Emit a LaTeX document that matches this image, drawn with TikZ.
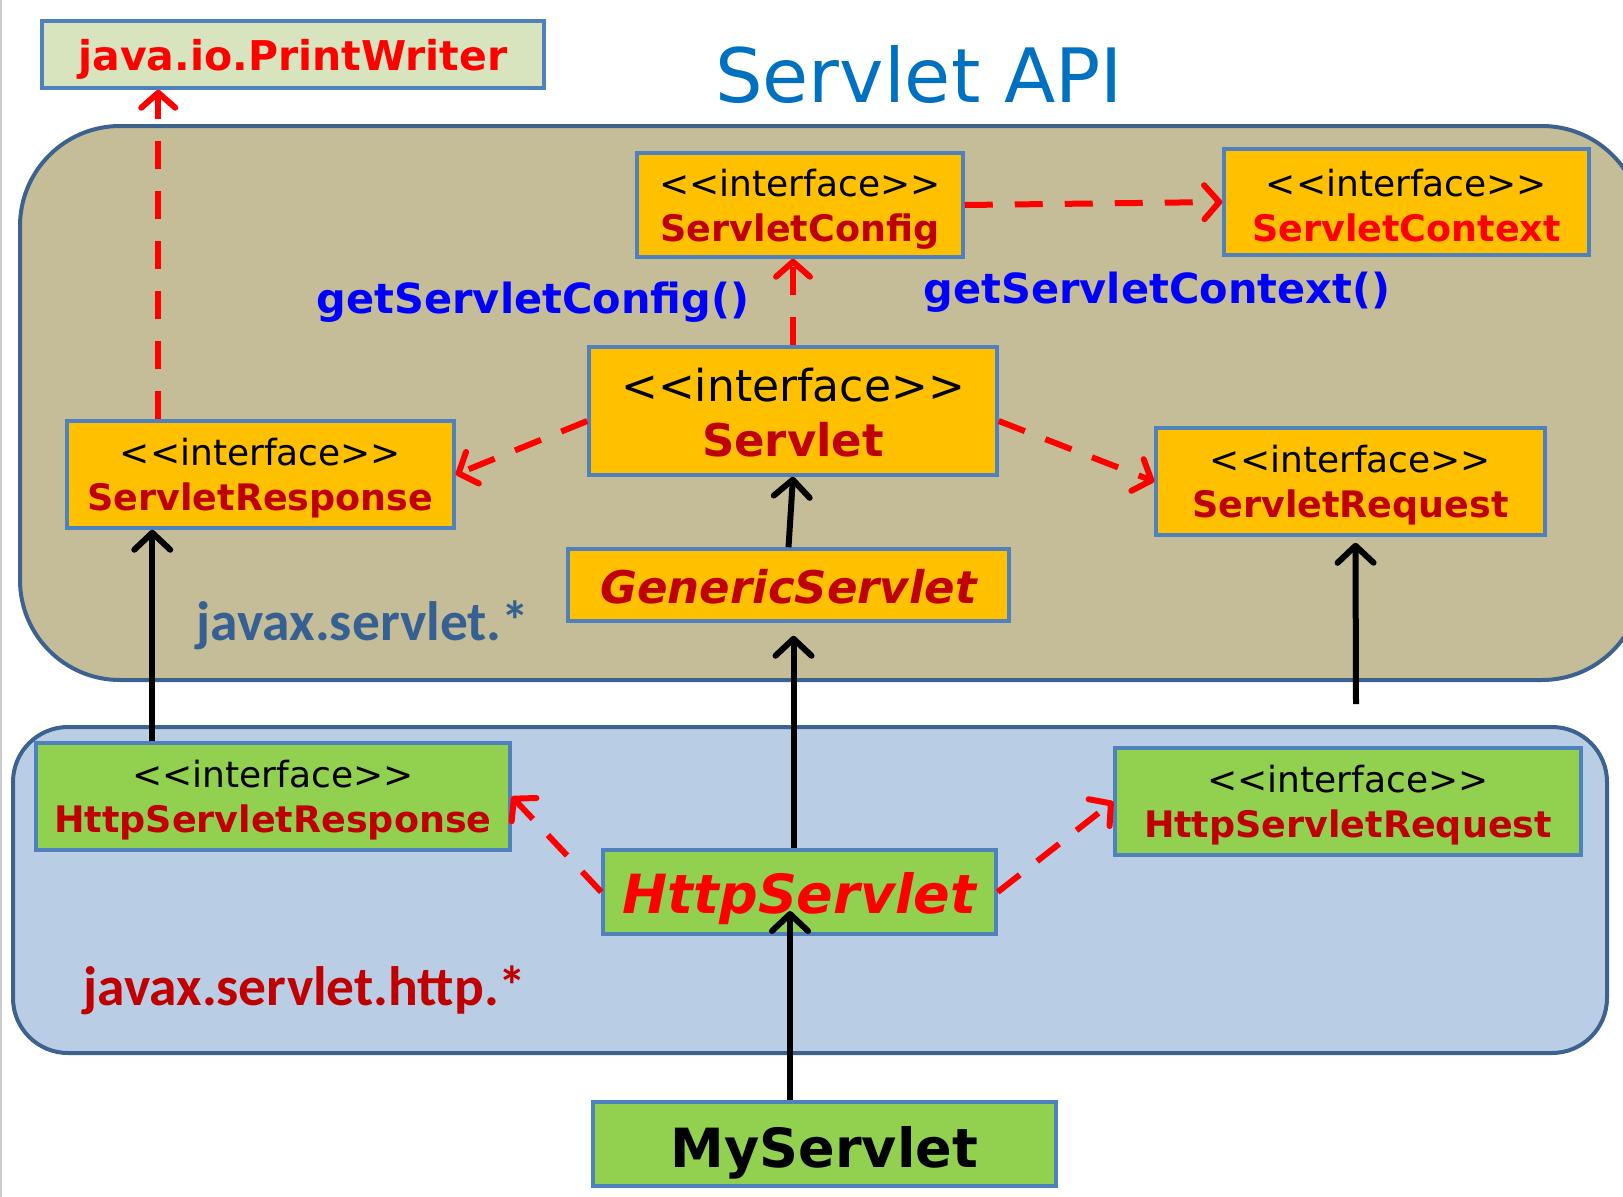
\documentclass[tikz,border=0pt]{standalone}
\usepackage{fontspec}
\usepackage{xcolor}
\usetikzlibrary{arrows.meta}
\newfontfamily\vfont{DejaVu Sans}
\newfontfamily\cfont{Carlito}
\definecolor{dred}{HTML}{C00000}
\definecolor{ifill}{HTML}{FFC000}
\definecolor{gfill}{HTML}{92D050}
\definecolor{pwfill}{HTML}{D7E4BD}
\definecolor{boxline}{HTML}{4F81BD}
\definecolor{regline}{HTML}{3E6290}
\definecolor{tanbg}{HTML}{C4BD97}
\definecolor{bluebg}{HTML}{B9CDE5}
\definecolor{apiblue}{HTML}{0070C0}
\definecolor{pkgblue}{HTML}{376092}
% stereotype line, with a strut that sets the text a little lower in its box
\newcommand\iface[1]{\rule{0pt}{#1}<<interface>>}
\newcommand\iname[2]{\textcolor{#1}{\bfseries\fontsize{36.5}{45}\selectfont #2}}

\begin{document}
\begin{tikzpicture}[x=1pt,y=-1pt,
  box/.style={draw=boxline, line width=3.5pt, inner sep=0pt, align=center},
  ibox/.style={box, fill=ifill, font=\vfont\fontsize{36}{45}\selectfont},
  hbox/.style={box, fill=gfill, font=\vfont\fontsize{36}{45}\selectfont},
  region/.style={draw=regline, line width=4pt},
  dep/.style={draw=red, line width=6pt, dash pattern=on 28pt off 22pt, -{Straight Barb[length=15pt,width=34pt,round]}},
  inh/.style={line width=6pt, -{Straight Barb[length=17pt,width=36pt,round]}}]
\useasboundingbox (0,0) rectangle (1623,1197);
\clip (0,0) rectangle (1623,1197);
\draw[gray!40, line width=2pt] (1,0) -- (1,1197);

% package regions
\filldraw[region, fill=tanbg, rounded corners=100pt] (20,126) rectangle (1642,680);
\filldraw[region, fill=bluebg, rounded corners=55pt] (13,727) rectangle (1607,1053);

\node[font=\vfont\fontsize{75}{90}\selectfont, text=apiblue] (api) at (919,75) {Servlet API};
\node[font=\cfont\bfseries\fontsize{55.5}{60}\selectfont, text=pkgblue] (pkg) at (363,625) {javax.servlet.*};
\node[font=\cfont\bfseries\fontsize{55.5}{60}\selectfont, text=dred] (hpkg) at (305,990) {javax.servlet.http.*};

% javax.servlet
\node[box, fill=pwfill, minimum width=502pt, minimum height=67pt, text height=32pt, text depth=0pt, font=\vfont\bfseries\fontsize{41}{48}\selectfont, text=red] (pw) at (293,54.5) {java.io.PrintWriter};
\node[ibox, minimum width=326pt, minimum height=104pt] (cfg) at (800,205) {\iface{35.5pt}\\\iname{dred}{ServletConfig}};
\node[ibox, minimum width=365pt, minimum height=106pt] (ctx) at (1406.5,202) {\iface{35.5pt}\\\iname{red}{ServletContext}};
\node[box, fill=ifill, minimum width=408pt, minimum height=128pt, font=\vfont\fontsize{44}{55}\selectfont] (srv) at (793,411) {\iface{37.5pt}\\\textcolor{dred}{\bfseries\fontsize{45}{55}\selectfont Servlet}};
\node[ibox, minimum width=387pt, minimum height=107pt] (resp) at (260.5,474.5) {\iface{35.5pt}\\\iname{dred}{ServletResponse}};
\node[ibox, minimum width=389pt, minimum height=107pt] (req) at (1350.5,481.5) {\iface{35.5pt}\\\iname{dred}{ServletRequest}};
\node[box, fill=ifill, minimum width=441pt, minimum height=72pt, text height=36pt, text depth=0pt, font=\vfont\bfseries\itshape\fontsize{45}{50}\selectfont, text=dred] (gen) at (788.5,585) {GenericServlet};

\node[font=\vfont\bfseries\fontsize{41.5}{48}\selectfont, text=blue] (getcfg) at (533,302) {getServletConfig()};
\node[font=\vfont\bfseries\fontsize{41.5}{48}\selectfont, text=blue] (getctx) at (1157,292) {getServletContext()};

% javax.servlet.http
\node[hbox, minimum width=474pt, minimum height=107pt] (hresp) at (273,796.5) {\iface{35.5pt}\\\iname{dred}{HttpServletResponse}};
\node[hbox, minimum width=466pt, minimum height=107pt] (hreq) at (1348,801.5) {\iface{35.5pt}\\\iname{dred}{HttpServletRequest}};
\node[box, fill=gfill, minimum width=393pt, minimum height=84pt, text height=42pt, text depth=0pt, font=\vfont\bfseries\itshape\fontsize{54}{60}\selectfont, text=red] (hs) at (799.5,892) {HttpServlet};
\node[box, fill=gfill, minimum width=463pt, minimum height=84pt, text height=46pt, text depth=0pt, font=\vfont\bfseries\fontsize{54}{60}\selectfont] (my) at (824.5,1144) {MyServlet};
\coordinate (reqtail) at (1356,704);

% uses
\draw[dep] ([xshift=93pt]resp.north west) -- ([xshift=118pt]pw.south west);
\draw[dep] (srv.north) -- (srv.north |- cfg.south);
\draw[dep] (cfg.east) -- (ctx.west);
\draw[dep] ([yshift=-10pt]srv.west) -- (resp.east);
\draw[dep] ([yshift=-10pt]srv.east) -- (req.west);
\draw[dep] (hs.west) -- (hresp.east);
\draw[dep] (hs.east) -- (hreq.west);

% extends / implements
\draw[inh] (gen.north) -- (srv.south);
\draw[inh] ([xshift=118pt]hresp.north west) -- ([xshift=87pt]resp.south west);
\draw[inh] ([xshift=-6pt]hs.north) -- ([xshift=5pt,yshift=-13pt]gen.south);
\draw[inh] (reqtail) -- ([xshift=5pt,yshift=-6pt]req.south);
\draw[inh] ([xshift=-34.5pt]my.north) -- ([xshift=-9.5pt,yshift=-19pt]hs.center);
\end{tikzpicture}
\end{document}
